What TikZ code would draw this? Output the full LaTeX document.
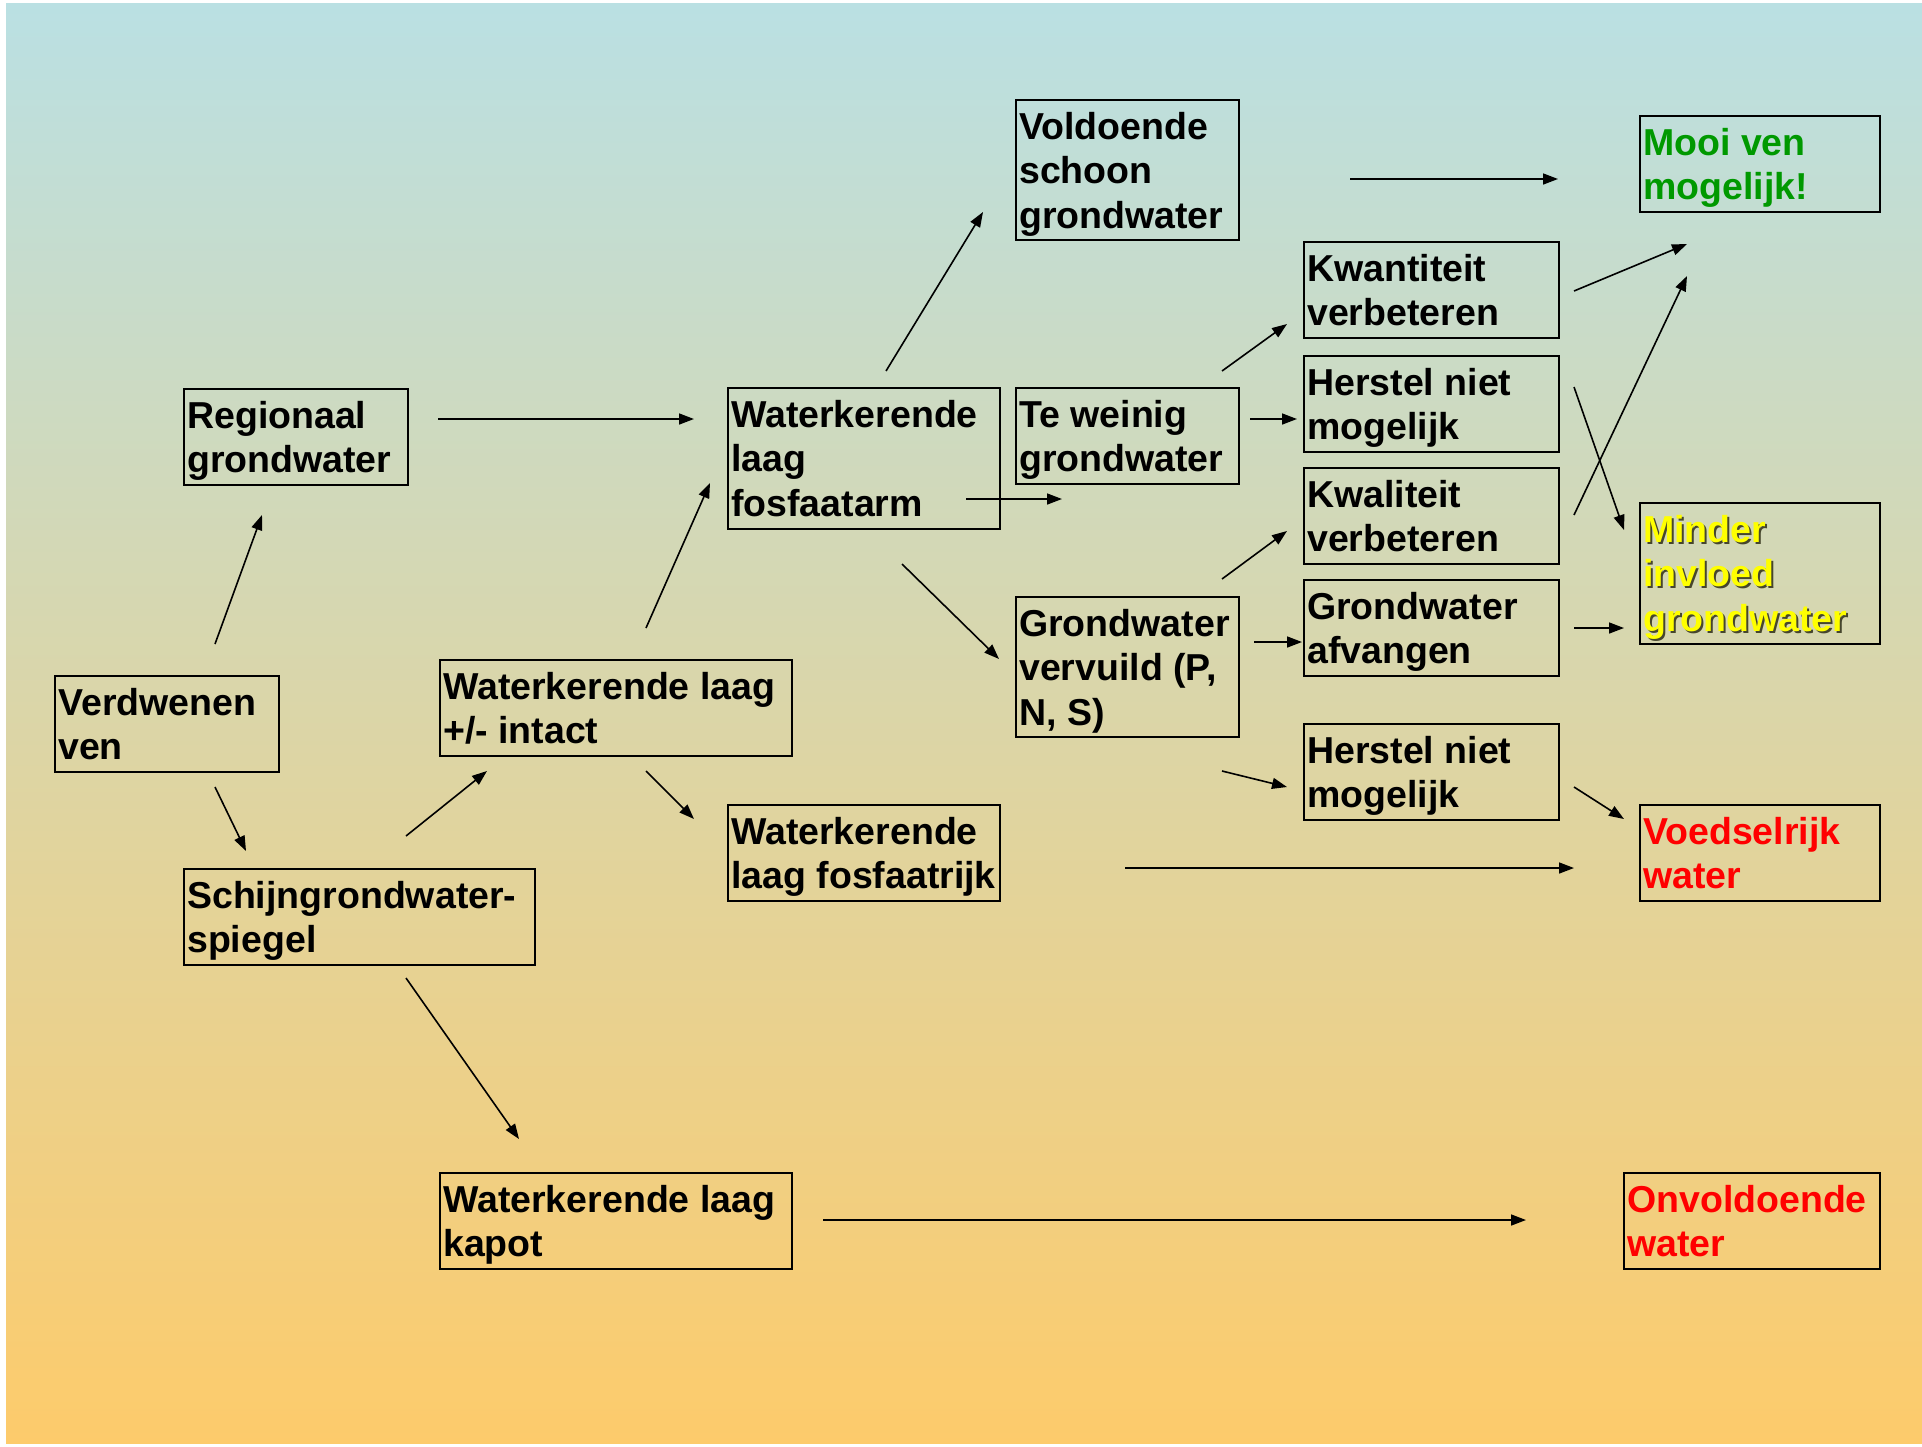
\documentclass[tikz,border=0pt]{standalone}
\usepackage{fontspec}
\setmainfont{Liberation Sans}
\usetikzlibrary{arrows.meta}
\definecolor{bgtop}{RGB}{186,224,227}
\definecolor{bgmid}{RGB}{222,215,172}
\definecolor{bgbot}{RGB}{253,203,107}
\definecolor{okgreen}{RGB}{0,153,0}
\definecolor{badred}{RGB}{255,0,0}
\definecolor{warnyellow}{RGB}{255,255,0}
\definecolor{shadowc}{RGB}{70,70,45}
\tikzset{
  box/.style={draw=black, line width=1.8pt, anchor=north west, inner sep=0pt},
  txt/.style={anchor=north west, inner sep=0pt, align=left, font=\fontsize{37.5}{44.6}\selectfont\bfseries},
  arr/.style={line width=1.6pt, -{Triangle[length=15pt,width=11pt]}}
}
\newcommand\mybox[7]{%
  \node[box, minimum width=#4pt, minimum height=#5pt] (#1) at (#2,#3) {};
  \node[txt, text=#6] (#1-t) at ([shift={(4,8.8)}]#1.north west) {\strut #7};
}
\begin{document}
\begin{tikzpicture}[x=1pt,y=-1pt]
\fill[white] (0,0) rectangle (1922,1446);
\path[use as bounding box] (0,0) rectangle (1922,1446);
\shade[top color=bgtop, middle color=bgmid, bottom color=bgbot] (6,3) rectangle (1922,1443);

% boxes
\mybox{vold}{1015}{99}{223}{140}{black}{Voldoende\\schoon\\grondwater}
\mybox{mooi}{1639}{115}{240}{96}{okgreen}{Mooi ven\\mogelijk!}
\mybox{kwan}{1303}{241}{255}{96}{black}{Kwantiteit\\verbeteren}
\mybox{regio}{183}{388}{224}{96}{black}{Regionaal\\grondwater}
\mybox{arm}{727}{387}{272}{141}{black}{Waterkerende\\laag\\fosfaatarm}
\mybox{weinig}{1015}{387}{223}{96}{black}{Te weinig\\grondwater}
\mybox{hers1}{1303}{355}{255}{96}{black}{Herstel niet\\mogelijk}
\mybox{kwal}{1303}{467}{255}{96}{black}{Kwaliteit\\verbeteren}
\node[box, minimum width=240pt, minimum height=141pt] (minder) at (1639,502) {};
\node[txt, text=shadowc] (minder-s) at ([shift={(6,10.8)}]minder.north west) {\strut Minder\\invloed\\grondwater};
\node[txt, text=warnyellow] (minder-t) at ([shift={(4,8.8)}]minder.north west) {\strut Minder\\invloed\\grondwater};
\mybox{afvang}{1303}{579}{255}{96}{black}{Grondwater\\afvangen}
\mybox{vervuild}{1015}{596}{223}{140}{black}{Grondwater\\vervuild (P,\\N, S)}
\mybox{verdw}{54}{675}{224}{96}{black}{Verdwenen\\ven}
\mybox{intact}{439}{659}{352}{96}{black}{Waterkerende laag\\+/- intact}
\mybox{hers2}{1303}{723}{255}{96}{black}{Herstel niet\\mogelijk}
\mybox{voedsel}{1639}{804}{240}{96}{badred}{Voedselrijk\\water}
\mybox{rijk}{727}{804}{272}{96}{black}{Waterkerende\\laag fosfaatrijk}
\mybox{schijn}{183}{868}{351}{96}{black}{Schijngrondwater-\\spiegel}
\mybox{kapot}{439}{1172}{352}{96}{black}{Waterkerende laag\\kapot}
\mybox{onvold}{1623}{1172}{256}{96}{badred}{Onvoldoende\\water}

% arrow end points
\coordinate (vm1) at (1350,179); \coordinate (vm2) at (1558,179);
\coordinate (kwm1) at (1574,291); \coordinate (kwm2) at (1687,244);
\coordinate (klm1) at (1574,515); \coordinate (klm2) at (1687,276);
\coordinate (hmi1) at (1574,387); \coordinate (hmi2) at (1624,530);
\coordinate (afmi1) at (1574,628); \coordinate (afmi2) at (1624,628);
\coordinate (hvo1) at (1574,787); \coordinate (hvo2) at (1624,819);
\coordinate (rjvo1) at (1125,868); \coordinate (rjvo2) at (1574,868);
\coordinate (kpon1) at (823,1220); \coordinate (kpon2) at (1526,1220);
\coordinate (rgar1) at (438,419); \coordinate (rgar2) at (694,419);
\coordinate (arvd1) at (886,371); \coordinate (arvd2) at (983,212);
\coordinate (artw1) at (966,499); \coordinate (artw2) at (1062,499);
\coordinate (argv1) at (902,564); \coordinate (argv2) at (999,659);
\coordinate (twkw1) at (1222,371); \coordinate (twkw2) at (1287,324);
\coordinate (twh1) at (1250,419); \coordinate (twh2) at (1297,419);
\coordinate (gvkl1) at (1222,579); \coordinate (gvkl2) at (1287,531);
\coordinate (gvaf1) at (1254,642); \coordinate (gvaf2) at (1302,642);
\coordinate (gvh1) at (1222,771); \coordinate (gvh2) at (1287,787);
\coordinate (vwrg1) at (215,644); \coordinate (vwrg2) at (262,515);
\coordinate (vwsc1) at (215,787); \coordinate (vwsc2) at (246,851);
\coordinate (scin1) at (406,836); \coordinate (scin2) at (487,771);
\coordinate (inar1) at (646,628); \coordinate (inar2) at (710,483);
\coordinate (inrj1) at (646,771); \coordinate (inrj2) at (694,819);
\coordinate (sckp1) at (406,978); \coordinate (sckp2) at (519,1139);

% arrows
\draw[arr] (vm1) -- (vm2);
\draw[arr] (kwm1) -- (kwm2);
\draw[arr] (klm1) -- (klm2);
\draw[arr] (hmi1) -- (hmi2);
\draw[arr] (afmi1) -- (afmi2);
\draw[arr] (hvo1) -- (hvo2);
\draw[arr] (rjvo1) -- (rjvo2);
\draw[arr] (kpon1) -- (kpon2);
\draw[arr] (rgar1) -- (rgar2);
\draw[arr] (arvd1) -- (arvd2);
\draw[arr] (artw1) -- (artw2);
\draw[arr] (argv1) -- (argv2);
\draw[arr] (twkw1) -- (twkw2);
\draw[arr] (twh1) -- (twh2);
\draw[arr] (gvkl1) -- (gvkl2);
\draw[arr] (gvaf1) -- (gvaf2);
\draw[arr] (gvh1) -- (gvh2);
\draw[arr] (vwrg1) -- (vwrg2);
\draw[arr] (vwsc1) -- (vwsc2);
\draw[arr] (scin1) -- (scin2);
\draw[arr] (inar1) -- (inar2);
\draw[arr] (inrj1) -- (inrj2);
\draw[arr] (sckp1) -- (sckp2);
\end{tikzpicture}
\end{document}
